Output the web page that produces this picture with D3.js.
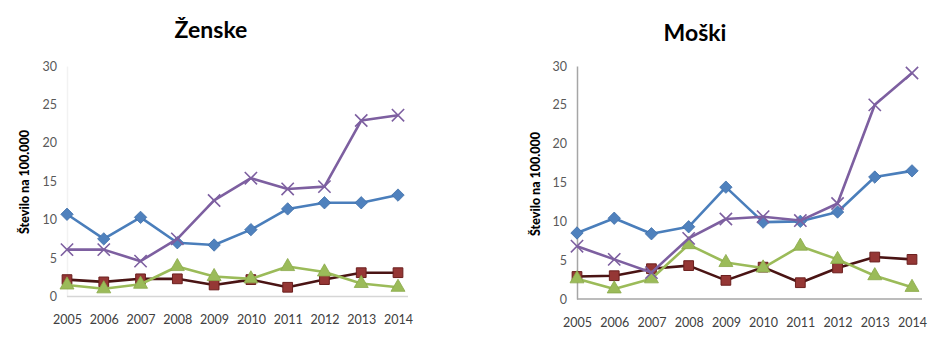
<!DOCTYPE html>
<html>
<head>
<meta charset="utf-8">
<script src="https://cdn.jsdelivr.net/npm/d3@7/dist/d3.min.js"></script>
<style>
  html, body { margin: 0; padding: 0; background: #fff; }
  svg { display: block; }
</style>
</head>
<body>
<svg id="chart" width="940" height="338"></svg>
<script>
// ---- Data ----
const years = [2005, 2006, 2007, 2008, 2009, 2010, 2011, 2012, 2013, 2014];
const yTicks = [0, 5, 10, 15, 20, 25, 30];
const panelTitles = ["Ženske", "Moški"];
const yAxisTitle = "Število na 100.000";

// Ženske (women)
const zBlue   = [10.7, 7.5, 10.3, 7.0, 6.7, 8.7, 11.4, 12.2, 12.2, 13.2];
const zPurple = [6.1, 6.1, 4.6, 7.5, 12.5, 15.4, 14.0, 14.3, 22.9, 23.6];
const zRed    = [2.2, 1.9, 2.3, 2.3, 1.5, 2.2, 1.2, 2.2, 3.1, 3.1];
const zGreen  = [1.5, 1.0, 1.6, 3.9, 2.6, 2.3, 3.9, 3.2, 1.7, 1.2];

// Moški (men)
const mBlue   = [8.5, 10.4, 8.4, 9.3, 14.4, 9.9, 10.0, 11.2, 15.7, 16.5];
const mPurple = [6.8, 5.1, 3.4, 7.8, 10.3, 10.6, 10.1, 12.3, 25.0, 29.1];
const mRed    = [2.9, 3.0, 3.9, 4.3, 2.4, 4.1, 2.1, 4.0, 5.4, 5.1];
const mGreen  = [2.6, 1.3, 2.6, 7.0, 4.7, 4.0, 6.8, 5.1, 3.0, 1.5];

// ---- Styles ----
const seriesStyle = {
  blue:   { line: "#4A7EBB", fill: "#4F81BD", stroke: "#3F6FA8", marker: "diamond" },
  red:    { line: "#4A1414", fill: "#953735", stroke: "#6B1F1E", marker: "square" },
  green:  { line: "#9BBB59", fill: "#9BBB59", stroke: "#8AAA4A", marker: "triangle" },
  purple: { line: "#7D5FA0", fill: "none",    stroke: "#7D5FA0", marker: "x" }
};

const panels = [
  {
    title: panelTitles[0], titleX: 211, titleY: 38,
    x0: 67, x1: 398, y0: 296.5, y1: 66,
    axisLeft: 67, axisRight: 408,
    yAxisColor: "#f2f2f2", xAxisColor: "#d6d6d6",
    yTitleX: 25, yTitleY: 182, xLabelY: 320,
    series: { blue: zBlue, purple: zPurple, red: zRed, green: zGreen }
  },
  {
    title: panelTitles[1], titleX: 695, titleY: 41,
    x0: 577, x1: 912, y0: 299, y1: 66,
    axisLeft: 577, axisRight: 922,
    yAxisColor: "#a6a6a6", xAxisColor: "#a6a6a6",
    yTitleX: 536, yTitleY: 184, xLabelY: 323,
    series: { blue: mBlue, purple: mPurple, red: mRed, green: mGreen }
  }
];

const svg = d3.select("#chart");
const font = "Lato, 'Open Sans', 'Liberation Sans', sans-serif";

panels.forEach(p => {
  const g = svg.append("g");
  const x = d3.scalePoint().domain(years).range([p.x0, p.x1]);
  const y = d3.scaleLinear().domain([0, 30]).range([p.y0, p.y1]);

  // title
  g.append("text")
    .attr("x", p.titleX).attr("y", p.titleY)
    .attr("text-anchor", "middle")
    .attr("font-family", font).attr("font-weight", "bold")
    .attr("font-size", 23).attr("fill", "#000")
    .text(p.title);

  // y axis
  const yAxis = d3.axisLeft(y).tickValues(yTicks).tickSize(0).tickPadding(10);
  const ya = g.append("g").attr("transform", `translate(${p.axisLeft},0)`).call(yAxis);
  ya.select(".domain").attr("stroke", p.yAxisColor).attr("stroke-width", 1.5);
  ya.selectAll("text").attr("font-family", font).attr("font-size", 12.5).attr("fill", "#595959");

  // x axis
  const xAxis = d3.axisBottom(x).tickSize(0).tickPadding(0).tickFormat(d3.format("d"));
  const xa = g.append("g").attr("transform", `translate(0,${p.y0})`).call(xAxis);
  xa.select(".domain").attr("d", `M${p.axisLeft},0H${p.axisRight}`)
    .attr("stroke", p.xAxisColor).attr("stroke-width", 1.5);
  xa.selectAll("text").attr("dy", null).attr("y", p.xLabelY - p.y0 + 4)
    .attr("font-family", font).attr("font-size", 12.5).attr("fill", "#404040");

  // y axis title
  g.append("text")
    .attr("transform", `translate(${p.yTitleX},${p.yTitleY}) rotate(-90)`)
    .attr("text-anchor", "middle").attr("dy", "0.35em")
    .attr("font-family", font).attr("font-weight", 900)
    .attr("font-size", 12.5).attr("fill", "#000")
    .text(yAxisTitle);

  const line = d3.line().x((d, i) => x(years[i])).y(d => y(d));

  const order = ["blue", "red", "green", "purple"];
  order.forEach(key => {
    const vals = p.series[key];
    const st = seriesStyle[key];
    g.append("path").datum(vals)
      .attr("d", line).attr("fill", "none")
      .attr("stroke", st.line).attr("stroke-width", 2.6)
      .attr("stroke-linejoin", "round");

    const mk = g.append("g");
    vals.forEach((v, i) => {
      const cx = x(years[i]), cy = y(v);
      if (st.marker === "diamond") {
        const r = 6.2;
        mk.append("path")
          .attr("d", `M0,${-r}L${r},0L0,${r}L${-r},0Z`)
          .attr("transform", `translate(${cx},${cy})`)
          .attr("fill", st.fill).attr("stroke", st.stroke).attr("stroke-width", 0.8);
      } else if (st.marker === "square") {
        mk.append("path")
          .attr("d", d3.symbol(d3.symbolSquare, 95)())
          .attr("transform", `translate(${cx},${cy})`)
          .attr("fill", st.fill).attr("stroke", st.stroke).attr("stroke-width", 1);
      } else if (st.marker === "triangle") {
        mk.append("path")
          .attr("d", d3.symbol(d3.symbolTriangle, 85)())
          .attr("transform", `translate(${cx},${cy})`)
          .attr("fill", st.fill).attr("stroke", st.stroke).attr("stroke-width", 0.8);
      } else if (st.marker === "x") {
        mk.append("path")
          .attr("d", d3.symbol(d3.symbolTimes, 100)())
          .attr("transform", `translate(${cx},${cy})`)
          .attr("fill", "none").attr("stroke", st.stroke).attr("stroke-width", 1.6);
      }
    });
  });
});
</script>
</body>
</html>
